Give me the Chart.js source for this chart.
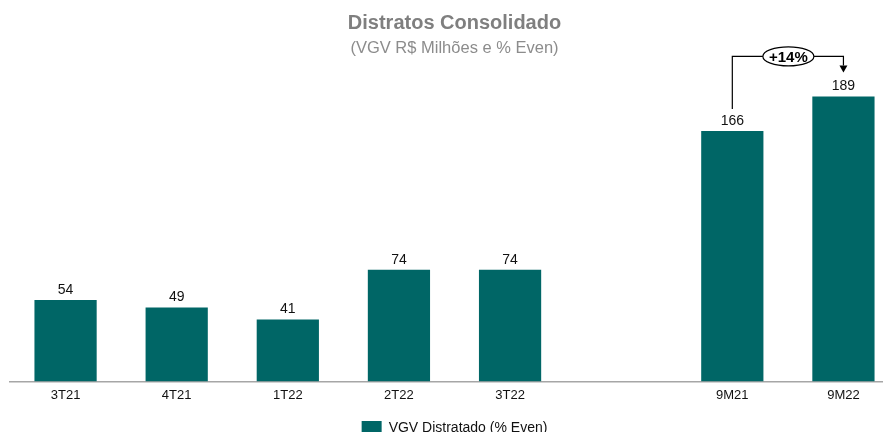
<!DOCTYPE html>
<html>
<head>
<meta charset="utf-8">
<script src="https://cdn.jsdelivr.net/npm/chart.js@4"></script>
<style>
  html, body { margin: 0; padding: 0; background: #fff; overflow: hidden; }
  #wrap { width: 910px; height: 446px; }
</style>
</head>
<body>
<div id="wrap"><canvas id="graf"></canvas></div>
<script>
const categories = ['3T21', '4T21', '1T22', '2T22', '3T22', '', '9M21', '9M22']
const distratado = [54, 49, 41, 74, 74, null, 166, 189]
const seriesName = 'VGV Distratado (% Even)'
const growthLabel = '+14%'
const growthFrom = 6
const growthTo = 7

const teal = '#006666'
const graph = document.getElementById('graf')

// value labels above every bar
const barLabels = {
  id: 'barLabels',
  afterDatasetsDraw(chart) {
    const ctx = chart.ctx
    const meta = chart.getDatasetMeta(0)
    ctx.save()
    ctx.font = '14px "Liberation Sans", Arial, sans-serif'
    ctx.fillStyle = '#111'
    ctx.textAlign = 'center'
    ctx.textBaseline = 'bottom'
    meta.data.forEach((bar, i) => {
      if (distratado[i] == null) return
      ctx.fillText(distratado[i], bar.x, bar.y - 3)
    })
    ctx.restore()
  }
}

// elbow arrow 9M21 -> 9M22 with the growth bubble
const growthArrow = {
  id: 'growthArrow',
  afterDatasetsDraw(chart) {
    const ctx = chart.ctx
    const meta = chart.getDatasetMeta(0)
    const a = meta.data[growthFrom]
    const b = meta.data[growthTo]
    const lineY = b.y - 40
    ctx.save()
    ctx.strokeStyle = '#000'
    ctx.lineWidth = 1.2
    ctx.beginPath()
    ctx.moveTo(a.x, a.y - 22)
    ctx.lineTo(a.x, lineY)
    ctx.lineTo(b.x, lineY)
    ctx.lineTo(b.x, b.y - 31)
    ctx.stroke()
    ctx.fillStyle = '#000'
    ctx.beginPath()
    ctx.moveTo(b.x - 4, b.y - 31)
    ctx.lineTo(b.x + 4, b.y - 31)
    ctx.lineTo(b.x, b.y - 24)
    ctx.closePath()
    ctx.fill()
    const cx = (a.x + b.x) / 2 + 0.5
    ctx.fillStyle = '#fff'
    ctx.beginPath()
    ctx.ellipse(cx, lineY, 25.5, 9.5, 0, 0, Math.PI * 2)
    ctx.fill()
    ctx.stroke()
    ctx.fillStyle = '#000'
    ctx.font = 'bold 15px "Liberation Sans", Arial, sans-serif'
    ctx.textAlign = 'center'
    ctx.textBaseline = 'middle'
    ctx.fillText(growthLabel, cx, lineY + 1)
    ctx.restore()
  }
}

new Chart(graph, {
  type: 'bar',
  data: {
    labels: categories,
    datasets: [{
      label: seriesName,
      data: distratado,
      backgroundColor: teal,
      barPercentage: 0.56,
      categoryPercentage: 1
    }]
  },
  options: {
    responsive: true,
    maintainAspectRatio: false,
    animation: false,
    layout: { padding: { left: 10, right: 11, top: 0, bottom: 0 } },
    scales: {
      x: {
        grid: { display: false, drawTicks: false },
        border: { display: true, color: '#a6a6a6', width: 1.5 },
        ticks: { color: '#111', font: { size: 13, family: '"Liberation Sans", Arial' }, padding: 6 }
      },
      y: {
        display: false,
        min: 0,
        max: 200
      }
    },
    plugins: {
      legend: {
        display: true,
        position: 'bottom',
        labels: {
          color: '#111',
          boxWidth: 20,
          boxHeight: 15,
          padding: 12,
          font: { size: 14, family: '"Liberation Sans", Arial' }
        }
      },
      title: {
        display: true,
        text: 'Distratos Consolidado',
        color: '#7f7f7f',
        font: { size: 20, weight: 'bold', family: '"Liberation Sans", Arial' },
        padding: { top: 11, bottom: 4 }
      },
      subtitle: {
        display: true,
        text: '(VGV R$ Milhões e % Even)',
        color: '#8c8c8c',
        font: { size: 16.5, family: '"Liberation Sans", Arial' },
        padding: { bottom: 21 }
      },
      tooltip: { enabled: false }
    }
  },
  plugins: [barLabels, growthArrow]
})
</script>
</body>
</html>
